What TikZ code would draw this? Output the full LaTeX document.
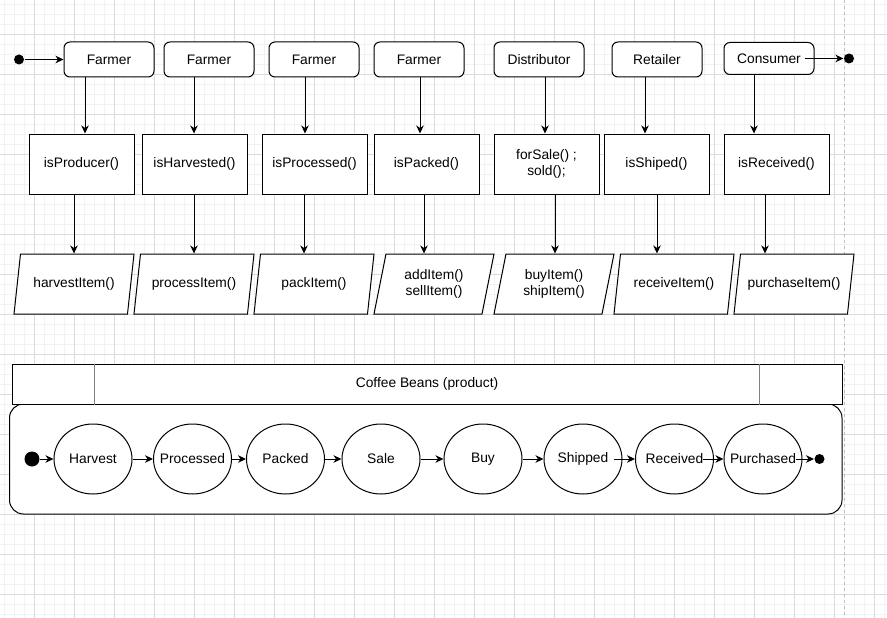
\documentclass[tikz,border=0pt]{standalone}
\usepackage{fontspec}
\setmainfont{Liberation Sans}
\usetikzlibrary{shapes.geometric}
\usetikzlibrary{arrows.meta}

\begin{document}
\begin{tikzpicture}[x=1pt,y=-1pt,line width=1pt,
    every node/.style={font=\fontsize{13.8}{16.5}\selectfont},
    minor/.style={gray!10,line width=.8pt},
    major/.style={gray!28,line width=.8pt},
    actor/.style={draw,fill=white,rounded corners=6pt,minimum width=90pt,minimum height=35pt},
    check/.style={draw,fill=white,minimum width=105pt,minimum height=60pt,align=center},
    call/.style={draw,fill=white,trapezium,trapezium left angle=71.57,
      trapezium right angle=108.43,trapezium stretches body=true,
      minimum width=120pt,minimum height=60pt,inner xsep=1pt,align=center},
    state/.style={draw,fill=white,ellipse,minimum width=78pt,minimum height=70pt,
      inner xsep=-15pt,inner ysep=0pt},
    dot/.style={circle,fill=black,inner sep=0pt,minimum size=10pt},
    arr/.style={-{Stealth[length=8pt,width=7.5pt,inset=2.5pt]}}]
  \useasboundingbox (0,0) rectangle (887,618);
  \fill[white] (0,0) rectangle (887,618);
  \foreach \k in {0,...,88} \draw[minor] (4.3+10*\k,0) -- (4.3+10*\k,618);
  \foreach \k in {0,...,61} \draw[minor] (0,4.3+10*\k) -- (887,4.3+10*\k);
  \foreach \k in {0,...,21} \draw[major] (34.3+40*\k,0) -- (34.3+40*\k,618);
  \foreach \k in {0,...,14} \draw[major] (0,34.3+40*\k) -- (887,34.3+40*\k);
  \draw[gray!50,dash pattern=on 3pt off 3pt] (844.3,0) -- (844.3,618);

  \node (s0) [dot] at (19,59.5) {};
  \node (fa) [actor] at (109,59.5) {Farmer};
  \node (fb) [actor] at (209,59.5) {Farmer};
  \node (fc) [actor] at (314,59.5) {Farmer};
  \node (fd) [actor] at (419,59.5) {Farmer};
  \node (ds) [actor] at (539,59.5) {Distributor};
  \node (rt) [actor] at (657,59.5) {Retailer};
  \node (cs) [actor,minimum height=32pt] at (769,58.5) {Consumer};
  \node (s1) [dot] at (849,58.5) {};
  \draw[arr] (s0) -- (fa);
  \draw[arr] ([xshift=-10pt]cs.east) -- (s1);

  \node (ipd) [check] at (81.5,164) {isProducer()};
  \node (ihv) [check] at (194.5,164) {isHarvested()};
  \node (ipr) [check] at (314.5,164) {isProcessed()};
  \node (ipk) [check] at (426.5,164) {isPacked()};
  \node (fsl) [check] at (546.5,164) {forSale() ;\\sold();};
  \node (ish) [check] at (656.5,164) {isShiped()};
  \node (irc) [check] at (776.5,164) {isReceived()};
  \draw[arr] ([xshift=-24pt]fa.south) -- ([xshift=-24pt]fa.south |- ipd.north);
  \draw[arr] ([xshift=-15pt]fb.south) -- ([xshift=-15pt]fb.south |- ihv.north);
  \draw[arr] ([xshift=-9pt]fc.south) -- ([xshift=-9pt]fc.south |- ipr.north);
  \draw[arr] ([xshift=1pt]fd.south) -- ([xshift=1pt]fd.south |- ipk.north);
  \draw[arr] ([xshift=6pt]ds.south) -- ([xshift=6pt]ds.south |- fsl.north);
  \draw[arr] ([xshift=-12pt]rt.south) -- ([xshift=-12pt]rt.south |- ish.north);
  \draw[arr] ([xshift=-15pt]cs.south) -- ([xshift=-15pt]cs.south |- irc.north);

  \node (hit) [call] at (74,284) {harvestItem()};
  \node (pit) [call] at (194,284) {processItem()};
  \node (kit) [call] at (314,284) {packItem()};
  \node (ait) [call] at (434,284) {addItem()\\sellItem()};
  \node (bit) [call] at (554,284) {buyItem()\\shipItem()};
  \node (rit) [call] at (674,284) {receiveItem()};
  \node (uit) [call] at (794,284) {purchaseItem()};
  \draw[arr] ([xshift=-7.5pt]ipd.south) -- ([xshift=-7.5pt]ipd.south |- hit.north);
  \draw[arr] ([xshift=-.5pt]ihv.south) -- ([xshift=-.5pt]ihv.south |- pit.north);
  \draw[arr] ([xshift=-10.5pt]ipr.south) -- ([xshift=-10.5pt]ipr.south |- kit.north);
  \draw[arr] ([xshift=-2.5pt]ipk.south) -- ([xshift=-2.5pt]ipk.south |- ait.north);
  \draw[arr] ([xshift=8.5pt]fsl.south) -- ([xshift=8.5pt]fsl.south |- bit.north);
  \draw[arr] ([xshift=.5pt]ish.south) -- ([xshift=.5pt]ish.south |- rit.north);
  \draw[arr] ([xshift=-11.5pt]irc.south) -- ([xshift=-11.5pt]irc.south |- uit.north);

  \draw[fill=white,rounded corners=14pt] (9.5,404) rectangle (842,514);
  \node (hd) [draw,fill=white,minimum width=830pt,minimum height=40pt] at (427,384) {Coffee Beans (product)};
  \draw[gray] ([xshift=83pt]hd.north west) -- ([xshift=83pt]hd.south west);
  \draw[gray] ([xshift=-83pt]hd.north east) -- ([xshift=-83pt]hd.south east);

  \node (st) [dot,minimum size=15pt] at (32,459) {};
  \node (hv) [state] at (93,459) {Harvest};
  \node (pr) [state] at (192.5,459) {Processed};
  \node (pa) [state] at (285.5,459) {Packed};
  \node (sa) [state] at (381,459) {Sale};
  \node (bu) [state] at (483,459) {Buy};
  \node (sh) [state] at (583,459) {Shipped};
  \node (re) [state] at (674.5,459) {Received};
  \node (pc) [state] at (763,459) {Purchased};
  \node (en) [dot] at (819.5,459) {};
  \draw[arr] (st) -- (hv);
  \draw[arr] (hv) -- (pr);
  \draw[arr] (pr) -- (pa);
  \draw[arr] (pa) -- (sa);
  \draw[arr] (sa) -- (bu);
  \draw[arr] (bu) -- (sh);
  \draw[arr] ([xshift=-9pt]sh.east) -- (re);
  \draw[arr] ([xshift=-11pt]re.east) -- (pc);
  \draw[arr] ([xshift=-7pt]pc.east) -- (en);
\end{tikzpicture}
\end{document}
